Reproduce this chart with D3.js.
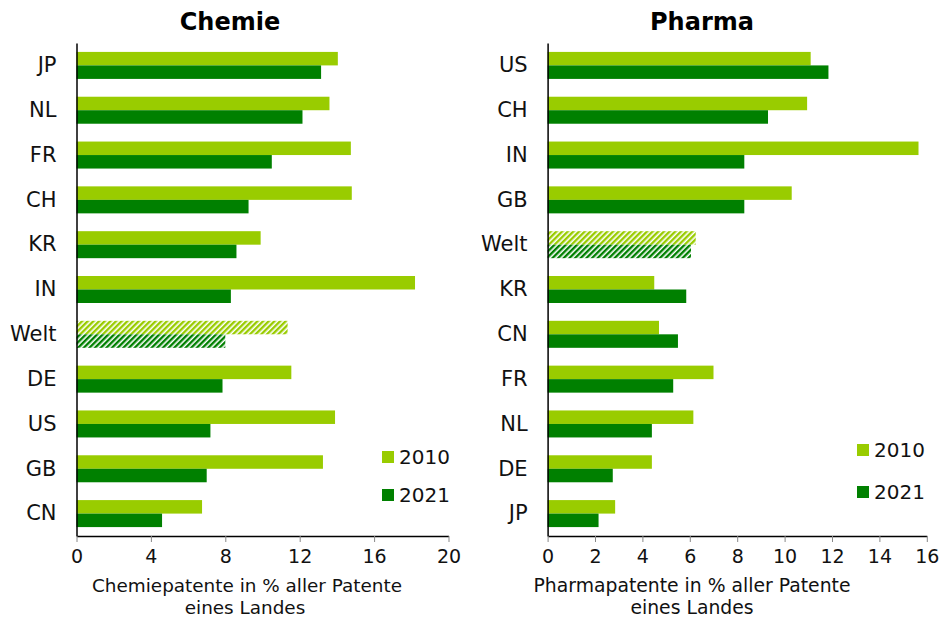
<!DOCTYPE html>
<html>
<head>
<meta charset="utf-8">
<script src="https://cdn.jsdelivr.net/npm/d3@7"></script>
<style>
  html, body { margin: 0; padding: 0; background: #fff; }
  svg { display: block; font-family: "DejaVu Sans", Verdana, sans-serif; }
</style>
</head>
<body>
<svg id="chart" width="947" height="617"></svg>
<script>
// ---- Data ----
const chemCategories = ["JP","NL","FR","CH","KR","IN","Welt","DE","US","GB","CN"];
const chem2010 = [14.05,13.6,14.75,14.8,9.9,18.2,11.35,11.55,13.9,13.25,6.75];
const chem2021 = [13.15,12.15,10.5,9.25,8.6,8.3,8.0,7.85,7.2,7.0,4.6];
const chemTicks = [0,4,8,12,16,20];

const pharmaCategories = ["US","CH","IN","GB","Welt","KR","CN","FR","NL","DE","JP"];
const pharma2010 = [11.1,10.95,15.65,10.3,6.25,4.5,4.7,7.0,6.15,4.4,2.85];
const pharma2021 = [11.85,9.3,8.3,8.3,6.05,5.85,5.5,5.3,4.4,2.75,2.15];
const pharmaTicks = [0,2,4,6,8,10,12,14,16];

const seriesNames = ["2010","2021"];
const colors = ["#99cc00","#008000"];
const hatchedCategory = "Welt";

const svg = d3.select("#chart");
const defs = svg.append("defs");
colors.forEach((c,i) => {
  const p = defs.append("pattern")
    .attr("id","hatch"+i)
    .attr("patternUnits","userSpaceOnUse")
    .attr("width",4).attr("height",4)
    .attr("patternTransform","rotate(45)");
  p.append("rect").attr("width",4).attr("height",4).attr("fill","#fff");
  p.append("rect").attr("x",0).attr("y",0).attr("width",2.4).attr("height",4).attr("fill",c);
});

function panel(opts) {
  const {x0,x1,cats,s1,s2,ticks,max,title,titleX,axisLines,axisSize,legendX,legendY,legendGap} = opts;
  const top = 43, bottom = 536;
  const g = svg.append("g");
  const x = d3.scaleLinear().domain([0,max]).range([x0,x1]);
  const y = d3.scaleBand().domain(cats).range([top,bottom]).padding(0);
  const barH = 13.5;

  cats.forEach((c,i) => {
    const cy = y(c) + y.bandwidth()/2;
    [s1[i], s2[i]].forEach((v,k) => {
      g.append("rect")
        .attr("x", x(0))
        .attr("y", cy - barH + k*barH)
        .attr("width", x(v) - x(0))
        .attr("height", barH)
        .attr("fill", c === hatchedCategory ? `url(#hatch${k})` : colors[k]);
    });
  });

  // y axis
  const yAxis = d3.axisLeft(y).tickSize(0).tickPadding(20);
  const ya = g.append("g").attr("transform",`translate(${x0},0)`).call(yAxis);
  ya.select(".domain").attr("stroke","#000").attr("stroke-width",1.5);
  ya.selectAll("text").attr("font-size",21).attr("fill","#111")
    .attr("font-family","\"DejaVu Sans\", Verdana, sans-serif");

  // x axis
  const xAxis = d3.axisBottom(x).tickValues(ticks).tickSize(6).tickSizeOuter(0).tickPadding(8);
  const xa = g.append("g").attr("transform",`translate(0,${bottom})`).call(xAxis);
  xa.select(".domain").attr("stroke","#000").attr("stroke-width",1.5);
  xa.selectAll(".tick line").attr("stroke","#888");
  xa.selectAll("text").attr("font-size",19).attr("fill","#111")
    .attr("font-family","\"DejaVu Sans\", Verdana, sans-serif");

  // axis title
  g.append("text").attr("x",axisLines[0]).attr("y",592).attr("text-anchor","middle")
    .attr("font-size",axisSize).attr("fill","#111").text(axisLines[2]);
  g.append("text").attr("x",axisLines[1]).attr("y",614).attr("text-anchor","middle")
    .attr("font-size",axisSize).attr("fill","#111").text(axisLines[3]);

  // title
  g.append("text").attr("x",titleX).attr("y",30).attr("text-anchor","middle")
    .attr("font-size",24).attr("font-weight","bold").attr("fill","#000").text(title);

  // legend
  seriesNames.forEach((n,k) => {
    const ly = legendY + k*legendGap;
    g.append("rect").attr("x",legendX).attr("y",ly-6).attr("width",12).attr("height",12).attr("fill",colors[k]);
    g.append("text").attr("x",legendX+17).attr("y",ly).attr("dy","0.36em")
      .attr("font-size",20).attr("fill","#111").text(n);
  });
}

panel({x0:76.5, x1:448.5, cats:chemCategories, s1:chem2010, s2:chem2021, ticks:chemTicks, max:20,
  title:"Chemie", titleX:230, axisLines:[247,245,"Chemiepatente in % aller Patente","eines Landes"], axisSize:18.4,
  legendX:382, legendY:457, legendGap:38});
panel({x0:547.6, x1:926.8, cats:pharmaCategories, s1:pharma2010, s2:pharma2021, ticks:pharmaTicks, max:16,
  title:"Pharma", titleX:702, axisLines:[692,692,"Pharmapatente in % aller Patente","eines Landes"], axisSize:18.8,
  legendX:857, legendY:450, legendGap:42});
</script>
</body>
</html>
